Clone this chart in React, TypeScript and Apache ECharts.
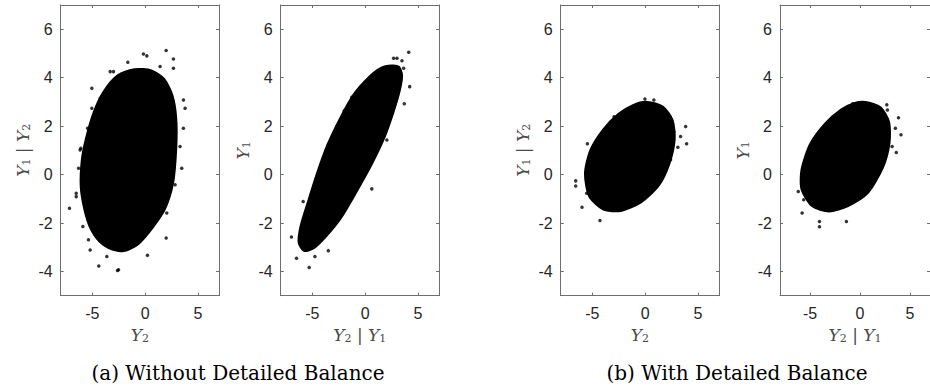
import React, { useEffect, useRef } from "react";
import * as echarts from "echarts";

// Axis ticks
const X_TICKS = [-5, 0, 5];
const Y_TICKS = [-4, -2, 0, 2, 4, 6];

// Dense cloud outlines [x, y]
const A_HULL = [[-1.0,4.35],[0.6,4.3],[1.8,3.95],[2.6,3.25],[2.95,2.3],[2.95,1.1],[2.65,-0.35],[1.85,-1.45],[0.7,-2.2],[-0.6,-2.85],[-1.9,-3.15],[-3.1,-3.1],[-4.35,-2.75],[-5.2,-2.2],[-5.75,-1.45],[-6.1,-0.5],[-6.0,0.6],[-5.6,1.5],[-4.85,2.6],[-3.9,3.45],[-2.6,4.1]];
const B_HULL = [[2.5,4.5],[3.2,4.45],[3.5,4.1],[3.3,3.5],[2.7,2.6],[1.8,1.5],[0.6,0.4],[-0.8,-0.7],[-2.3,-1.8],[-3.8,-2.6],[-4.9,-3.05],[-5.8,-3.15],[-6.3,-2.8],[-6.1,-2.1],[-5.4,-1.1],[-4.6,0.0],[-3.6,1.2],[-2.4,2.3],[-1.1,3.3],[0.3,4.0],[1.5,4.4]];
const C_HULL = [[0.2,3.0],[1.7,2.8],[2.6,2.25],[2.8,1.45],[2.3,0.45],[1.3,-0.45],[-0.4,-1.15],[-2.3,-1.5],[-3.95,-1.45],[-5.3,-0.9],[-5.7,0.05],[-5.2,1.0],[-4.0,1.85],[-2.55,2.5],[-1.1,2.88]];
const D_HULL = [[0.55,3.0],[2.05,2.78],[2.9,2.18],[2.95,1.3],[2.3,0.3],[0.8,-0.75],[-1.2,-1.3],[-3.1,-1.52],[-4.8,-1.3],[-5.85,-0.6],[-5.85,0.2],[-5.0,1.25],[-3.5,2.1],[-1.9,2.68],[-0.6,2.95]];

// Scattered outlying samples [x, y]
const A_PTS = [[1.99,5.12],[-0.16,4.98],[0.16,4.9],[2.68,4.77],[-1.64,4.64],[2.68,4.39],[1.42,4.46],[-0.16,4.32],[-3.31,4.25],[-3.0,4.25],[-5.05,3.56],[-4.26,3.15],[-5.05,2.74],[3.63,3.08],[3.79,2.74],[3.63,1.91],[3.31,1.16],[3.47,0.26],[2.84,-0.42],[2.68,0.19],[2.05,-1.59],[1.73,-1.46],[1.99,-2.62],[0.22,-3.33],[-2.52,-3.93],[-2.62,-3.96],[-3.63,-3.38],[-4.39,-3.77],[-5.21,-3.11],[-5.37,-2.69],[-5.9,-2.14],[-6.53,-0.91],[-6.53,-0.77],[-7.17,-1.39],[-6.31,0.26],[-6.16,1.02],[-6.09,1.09],[-5.46,1.91]];
const B_PTS = [[4.13,5.05],[4.22,3.63],[2.7,4.8],[3.02,4.8],[3.49,4.7],[3.65,4.39],[3.71,2.92],[-1.27,3.19],[-1.99,2.63],[-6.98,-2.58],[-6.5,-3.45],[-5.3,-3.84],[-3.49,-3.14],[-4.76,-3.38],[0.63,-0.59],[2.06,1.43],[-5.87,-1.11],[-3.65,1.02],[-2.7,1.98]];
const C_PTS = [[-0.02,3.12],[0.83,3.08],[3.84,1.98],[3.93,1.27],[3.36,1.57],[-5.47,1.27],[-6.58,-0.26],[-6.58,-0.47],[-5.98,-1.35],[-4.28,-1.9],[-1.16,-0.97],[0.36,-0.74],[2.41,0.61],[3.1,1.13],[-1.69,2.67],[-2.95,2.39],[-4.53,0.88],[-5.54,-0.77],[2.73,1.77]];
const D_PTS = [[4.1,1.64],[3.63,0.91],[3.85,2.35],[2.74,2.67],[2.68,2.88],[0.22,2.95],[-0.73,2.92],[-6.17,-0.7],[-5.79,-1.59],[-4.05,-1.94],[-4.05,-2.15],[-1.36,-1.94],[-2.47,-1.39],[2.43,0.54],[3.21,1.16],[3.54,1.91],[0.84,2.88],[-4.84,0.61],[-5.63,-1.04]];

const X_NAMES = ["{i|Y}{s|2}", "{i|Y}{s|2}{n| | }{i|Y}{s|1}", "{i|Y}{s|2}", "{i|Y}{s|2}{n| | }{i|Y}{s|1}"];
const Y_NAMES = ["{i|Y}{s|1}{n| | }{i|Y}{s|2}", "{i|Y}{s|1}", "{i|Y}{s|1}{n| | }{i|Y}{s|2}", "{i|Y}{s|1}"];
const CAPTIONS = ["(a) Without Detailed Balance", "(b) With Detailed Balance"];

const FRAME = "#6e6e6e";
const LABEL = "#262626";
const NAME = "#4a4a4a";

export default function App() {
  const ref = useRef<HTMLDivElement>(null);
  useEffect(() => {
    if (!ref.current) return;
    const chart = echarts.init(ref.current, null, { renderer: "svg" });
    const lefts = [60.7, 280.7, 560.7, 780];
    const W = 158.3;
    const hulls = [A_HULL, B_HULL, C_HULL, D_HULL];
    const pts = [A_PTS, B_PTS, C_PTS, D_PTS];
    const rich = {
      i: { fontFamily: "DejaVu Serif", fontStyle: "italic", fontSize: 17, color: NAME },
      s: { fontFamily: "DejaVu Serif", fontSize: 11, color: NAME, verticalAlign: "bottom" },
      n: { fontFamily: "DejaVu Serif", fontSize: 17, color: NAME },
    };
    const grid: any[] = [];
    const xAxis: any[] = [];
    const yAxis: any[] = [];
    const series: any[] = [];
    lefts.forEach((l, k) => {
      grid.push({ left: l, top: 5, width: W, height: 290.7 });
      ["bottom", "top"].forEach((pos) => {
        xAxis.push({
          type: "value", gridIndex: k, position: pos, min: -8, max: 7,
          axisLine: { show: true, onZero: false, lineStyle: { color: FRAME, width: 1 } },
          axisTick: { show: true, inside: true, length: 3, customValues: X_TICKS, lineStyle: { color: FRAME } },
          axisLabel: pos === "bottom"
            ? { show: true, customValues: X_TICKS, color: LABEL, fontSize: 16, fontFamily: "Liberation Sans", margin: 10 }
            : { show: false },
          splitLine: { show: false },
          name: pos === "bottom" ? X_NAMES[k] : "",
          nameLocation: "middle", nameGap: 31,
          nameTextStyle: { rich },
        });
      });
      ["left", "right"].forEach((pos) => {
        yAxis.push({
          type: "value", gridIndex: k, position: pos, min: -5, max: 7,
          axisLine: { show: true, onZero: false, lineStyle: { color: FRAME, width: 1 } },
          axisTick: { show: true, inside: true, length: 3, customValues: Y_TICKS, lineStyle: { color: FRAME } },
          axisLabel: pos === "left"
            ? { show: true, customValues: Y_TICKS, color: LABEL, fontSize: 16, fontFamily: "Liberation Sans", margin: 8 }
            : { show: false },
          splitLine: { show: false },
          name: pos === "left" ? Y_NAMES[k] : "",
          nameLocation: "middle", nameGap: 29,
          nameTextStyle: { rich },
        });
      });
      const hull = hulls[k];
      series.push({
        type: "custom", xAxisIndex: 2 * k, yAxisIndex: 2 * k, data: hull, clip: true,
        renderItem: (params: any, api: any) => {
          if (params.dataIndex !== 0) return null;
          const p = hull.map((d) => api.coord(d));
          return { type: "polygon", shape: { points: p, smooth: 0.25 }, style: { fill: "#000", stroke: "#000", lineWidth: 2 } };
        },
      });
      series.push({
        type: "scatter", xAxisIndex: 2 * k, yAxisIndex: 2 * k, data: pts[k],
        symbolSize: 3.5, itemStyle: { color: "#000" },
      });
    });
    chart.setOption({
      animation: false,
      grid, xAxis, yAxis, series,
      graphic: [
        { type: "text", x: 238, y: 373, style: { text: CAPTIONS[0], fill: "#000", font: "20px 'DejaVu Serif'", textAlign: "center", textVerticalAlign: "middle" } },
        { type: "text", x: 737, y: 373, style: { text: CAPTIONS[1], fill: "#000", font: "20px 'DejaVu Serif'", textAlign: "center", textVerticalAlign: "middle" } },
      ],
    });
    return () => chart.dispose();
  }, []);
  return <div ref={ref} style={{ position: "fixed", left: 0, top: 0, width: 930, height: 390, background: "#fff" }} />;
}
